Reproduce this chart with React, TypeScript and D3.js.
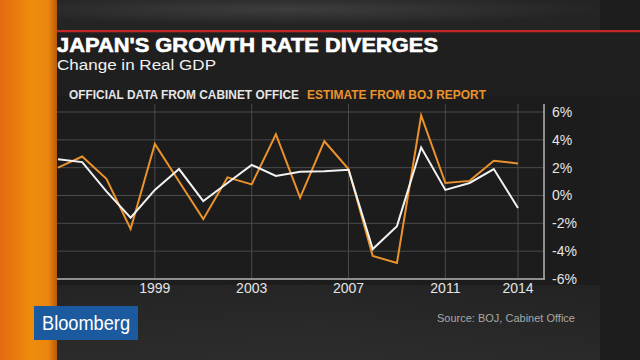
import React from 'react'
import * as d3 from 'd3'

const WIDTH = 640
const HEIGHT = 360

// fiscal years shown on the chart
const YEARS = [1995, 1996, 1997, 1998, 1999, 2000, 2001, 2002, 2003, 2004,
  2005, 2006, 2007, 2008, 2009, 2010, 2011, 2012, 2013, 2014]
// official data from Cabinet Office, % change in real GDP
const OFFICIAL = [2.6, 2.4, 0.3, -1.6, 0.4, 1.9, -0.4, 0.9, 2.2, 1.4,
  1.7, 1.75, 1.85, -3.85, -2.2, 3.45, 0.4, 0.9, 1.9, -0.9]
// estimate from BOJ report
const BOJ = [2.0, 2.8, 1.2, -2.4, 3.7, 1.0, -1.7, 1.3, 0.8, 4.4,
  -0.15, 3.9, 1.9, -4.35, -4.85, 5.75, 0.9, 1.05, 2.5, 2.3]

const X_TICKS = [1999, 2003, 2007, 2011, 2014]
const Y_TICKS = [6, 4, 2, 0, -2, -4, -6]

const ORANGE = '#ea922c'
const WHITE = '#f2f2f2'
const FONT = '"Liberation Sans", Arial, sans-serif'

const PLOT = { left: 57, right: 544, top: 104, bottom: 279 }

export default function App() {
  const x = d3.scaleLinear().domain([1995, 2014]).range([58, 518])
  const y = d3.scaleLinear().domain([-6, 6]).range([279, 112])

  const line = d3.line<number>()
    .x((d, i) => x(YEARS[i]))
    .y((d) => y(d))

  return (
    <svg width={WIDTH} height={HEIGHT}
      style={{ position: 'absolute', left: 0, top: 0, display: 'block' }}>
      <defs>
        <linearGradient id="bg" x1="0" y1="0" x2="1" y2="0">
          <stop offset="0" stopColor="#262626" />
          <stop offset="0.5" stopColor="#303030" />
          <stop offset="0.9" stopColor="#222" />
          <stop offset="1" stopColor="#1c1c1c" />
        </linearGradient>
        <radialGradient id="topglow" cx="0.45" cy="0.3" r="0.5">
          <stop offset="0" stopColor="#3d3d3d" />
          <stop offset="1" stopColor="#242424" />
        </radialGradient>
        <linearGradient id="orangebar" x1="0" y1="0" x2="1" y2="0">
          <stop offset="0" stopColor="#e46a12" />
          <stop offset="0.55" stopColor="#f08c0c" />
          <stop offset="0.85" stopColor="#e8860e" />
          <stop offset="1" stopColor="#b85a0a" />
        </linearGradient>
        <linearGradient id="bottomfade" x1="0" y1="0" x2="0" y2="1">
          <stop offset="0" stopColor="#232323" />
          <stop offset="1" stopColor="#2c2c2c" />
        </linearGradient>
      </defs>

      {/* background */}
      <rect x={0} y={0} width={WIDTH} height={HEIGHT} fill="url(#bg)" />
      <rect x={0} y={0} width={WIDTH} height={31} fill="url(#topglow)" />
      <rect x={0} y={285} width={600} height={75} fill="url(#bottomfade)" opacity={0.8} />
      <rect x={600} y={0} width={40} height={HEIGHT} fill="#1d1d1d" />

      {/* title band */}
      <rect x={55} y={30} width={585} height={2.5} fill="#c4262a" />
      <rect x={55} y={32.5} width={585} height={63.5} fill="#1f1f1f" />
      <text x={57} y={52} fill="#fff" stroke="#fff" strokeWidth={0.6}
        fontFamily={FONT} fontWeight={700}
        fontSize={19.5} textLength={381} lengthAdjust="spacingAndGlyphs">
        JAPAN'S GROWTH RATE DIVERGES
      </text>
      <text x={57} y={70} fill="#f2f2f2" fontFamily={FONT} fontSize={14}
        textLength={159} lengthAdjust="spacingAndGlyphs">
        Change in Real GDP
      </text>

      {/* chart panel */}
      <rect x={57} y={96} width={543} height={189} fill="#1c1c1c" />

      {/* legend */}
      <text x={69} y={99} fill="#e6e6e6" fontFamily={FONT} fontWeight={700}
        fontSize={12} textLength={230} lengthAdjust="spacingAndGlyphs">
        OFFICIAL DATA FROM CABINET OFFICE
      </text>
      <text x={307} y={99} fill={ORANGE} fontFamily={FONT} fontWeight={700}
        fontSize={12} textLength={179} lengthAdjust="spacingAndGlyphs">
        ESTIMATE FROM BOJ REPORT
      </text>

      {/* grid */}
      <g>
        {Y_TICKS.filter((t) => t > -6).map((t) => (
          <line key={'h' + t} x1={PLOT.left} x2={PLOT.right} y1={y(t)} y2={y(t)}
            stroke="#4a4a4a" strokeWidth={1} />
        ))}
        {X_TICKS.map((t) => (
          <line key={'v' + t} x1={x(t)} x2={x(t)} y1={PLOT.top} y2={PLOT.bottom}
            stroke="#4a4a4a" strokeWidth={1} />
        ))}
        <line x1={PLOT.left} x2={PLOT.right + 1} y1={PLOT.bottom} y2={PLOT.bottom}
          stroke="#b4b4b4" strokeWidth={1.5} />
        <line x1={PLOT.right} x2={PLOT.right} y1={PLOT.top} y2={PLOT.bottom}
          stroke="#b4b4b4" strokeWidth={1.5} />
      </g>

      {/* series */}
      <path d={line(BOJ) || ''} fill="none" stroke={ORANGE} strokeWidth={2}
        strokeLinejoin="miter" />
      <path d={line(OFFICIAL) || ''} fill="none" stroke={WHITE} strokeWidth={2}
        strokeLinejoin="miter" />

      {/* axis labels */}
      {Y_TICKS.map((t) => (
        <text key={'yl' + t} x={552} y={y(t)} dy="0.35em" fill="#e4e4e4"
          fontFamily={FONT} fontSize={14}>
          {t + '%'}
        </text>
      ))}
      {X_TICKS.map((t) => (
        <text key={'xl' + t} x={x(t)} y={293} textAnchor="middle" fill="#e4e4e4"
          fontFamily={FONT} fontSize={14}>
          {t}
        </text>
      ))}

      {/* orange side bar */}
      <rect x={0} y={0} width={57} height={HEIGHT} fill="url(#orangebar)" />

      {/* logo and source */}
      <rect x={34} y={306} width={104} height={34} fill="#1b5a9e" />
      <text x={42} y={330} fill="#fff" fontFamily={FONT} fontSize={20}
        textLength={88} lengthAdjust="spacingAndGlyphs">
        Bloomberg
      </text>
      <text x={575} y={322} textAnchor="end" fill="#a8a8a8" fontFamily={FONT}
        fontSize={11}>
        Source: BOJ, Cabinet Office
      </text>
    </svg>
  )
}
